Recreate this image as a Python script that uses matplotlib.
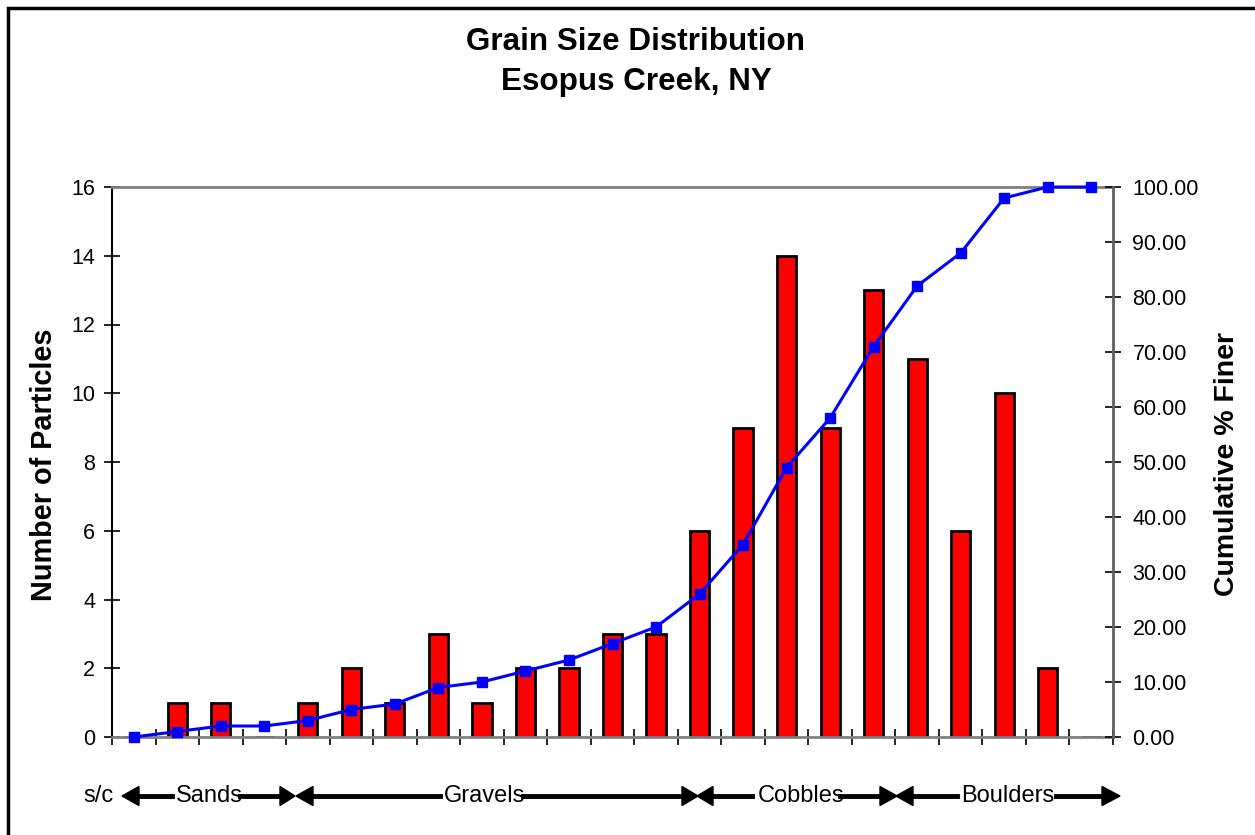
import matplotlib
matplotlib.use("Agg")
import matplotlib.pyplot as plt
from matplotlib.lines import Line2D
from matplotlib.patches import Polygon, Rectangle
import numpy as np

plt.rcParams['font.family'] = ['Liberation Sans', 'DejaVu Sans']

# ---- data ----
counts = [0, 1, 1, 0, 1, 2, 1, 3, 1, 2, 2, 3, 3, 6, 9, 14, 9, 13, 11, 6, 10, 2, 0]
cum_finer = [0, 1, 2, 2, 3, 5, 6, 9, 10, 12, 14, 17, 20, 26, 35, 49, 58, 71, 82, 88, 98, 100, 100]
left_ticks = [0, 2, 4, 6, 8, 10, 12, 14, 16]
right_ticks = [0, 10, 20, 30, 40, 50, 60, 70, 80, 90, 100]
class_labels = ["s/c", "Sands", "Gravels", "Cobbles", "Boulders"]

W, H = 1255, 835
fig = plt.figure(figsize=(W / 100, H / 100), dpi=100)

def fx(x):
    return x / W

def fy(y):
    return 1 - y / H

L, R, T, B = 112, 1113, 187, 737
ax = fig.add_axes([fx(L), fy(B), fx(R) - fx(L), fy(T) - fy(B)])
x = np.arange(len(counts))
ax.bar(x, counts, width=0.44, color='#FF0000', edgecolor='black', linewidth=2, zorder=2)
ax.set_xlim(-0.5, len(counts) - 0.5)
ax.set_ylim(0, 16)
ax.set_yticks(left_ticks)
ax.set_yticklabels([str(v) for v in left_ticks])
ax.set_xticks(np.arange(-0.5, len(counts), 1.0))
ax.set_xticklabels([])
ax.tick_params(axis='x', direction='inout', length=12, width=1.2, color='black')
ax.tick_params(axis='y', direction='inout', length=11, width=1.2, labelsize=15.5, pad=6.5)
ax.spines['left'].set_color('black')
ax.spines['left'].set_linewidth(1.5)
ax.spines['bottom'].set_color('#808080')
ax.spines['bottom'].set_linewidth(2)
ax.spines['top'].set_color('#808080')
ax.spines['top'].set_linewidth(2)
ax.spines['right'].set_visible(False)

ax2 = ax.twinx()
ax2.plot(x, cum_finer, color='#0000FF', linewidth=2.2, marker='s', markersize=6.5,
         markerfacecolor='#0000FF', markeredgecolor='#0000FF', zorder=3, clip_on=False)
ax2.set_ylim(0, 100)
ax2.set_yticks(right_ticks)
ax2.set_yticklabels(["%.2f" % v for v in right_ticks])
ax2.tick_params(axis='y', direction='inout', length=11, width=1.2, labelsize=15.5, pad=8.5)
ax2.spines['right'].set_color('#606060')
ax2.spines['right'].set_linewidth(2)
for s in ['left', 'top', 'bottom']:
    ax2.spines[s].set_visible(False)

# titles and axis labels
fig.text(fx(636), fy(42), "Grain Size Distribution", ha='center', va='center',
         fontsize=22.6, fontweight='bold')
fig.text(fx(636), fy(82), "Esopus Creek, NY", ha='center', va='center',
         fontsize=22.6, fontweight='bold')
fig.text(fx(44), fy(465), "Number of Particles", ha='center', va='center',
         rotation=90, fontsize=20.8, fontweight='bold')
fig.text(fx(1227), fy(464), "Cumulative % Finer", ha='center', va='center',
         rotation=90, fontsize=20.5, fontweight='bold')

# class arrows below the axis
ya = 796
hh = 9.5
shafts = [(139, 172), (240, 280), (313, 440), (523, 682), (713, 752),
          (840, 880), (913, 957), (1056, 1102)]
for a, b in shafts:
    fig.add_artist(Line2D([fx(a), fx(b)], [fy(ya), fy(ya)], color='black', linewidth=3.5))
heads = [(122, 139), (295, 280), (296, 313), (698, 682), (697, 713), (897, 880),
         (896, 913), (1120, 1102)]
for tip, base in heads:
    fig.add_artist(Polygon([[fx(tip), fy(ya)], [fx(base), fy(ya - hh)], [fx(base), fy(ya + hh)]],
                           closed=True, facecolor='black', edgecolor='black',
                           transform=fig.transFigure))
label_x = [98, 209, 485, 801, 1008]
for lx, lab in zip(label_x, class_labels):
    fig.text(fx(lx), fy(ya), lab, ha='center', va='center', fontsize=17)

# outer frame
fig.add_artist(Rectangle((fx(8), -0.1), 1.2, fy(8) + 0.1, transform=fig.transFigure,
                         fill=False, edgecolor='black', linewidth=2.5))

fig.savefig("out.png", dpi=100)
